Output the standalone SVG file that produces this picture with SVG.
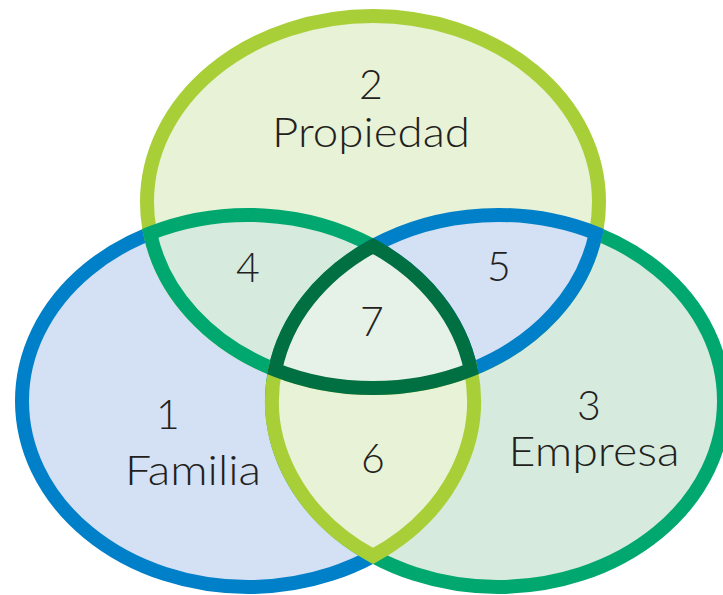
<svg xmlns="http://www.w3.org/2000/svg" width="723" height="595" viewBox="0 0 723 595">
<style>
.sw{stroke-width:14;stroke-linejoin:miter;stroke-miterlimit:10}
.lbl{font-family:"Lato","Open Sans","DejaVu Sans",sans-serif;font-weight:300;font-size:42px;fill:#231f20;text-anchor:middle}
.num{font-family:"Lato","Open Sans","DejaVu Sans",sans-serif;font-weight:300;font-size:41px;fill:#231f20;text-anchor:middle}
</style>
<rect width="723" height="595" fill="#ffffff"/>
<g id="familia">
<ellipse class="sw" cx="248" cy="401" rx="226" ry="186" fill="#d4e0f3" stroke="#0080c8"/>
</g>
<g id="empresa">
<ellipse class="sw" cx="498" cy="401" rx="226" ry="186" fill="#d6eade" stroke="#00a86f"/>
</g>
<g id="propiedad">
<ellipse class="sw" cx="373" cy="202" rx="226" ry="186" fill="#e8f2d6" stroke="#a8cf38"/>
</g>
<g id="region4">
<path class="sw" d="M150.2,233.3 A226,186 0 0 1 373,246 A226,186 0 0 0 275.2,369.7 A226,186 0 0 1 150.2,233.3 Z" fill="#d6eade" stroke="#00a86f"/>
</g>
<g id="region5">
<path class="sw" d="M595.8,233.3 A226,186 0 0 0 373,246 A226,186 0 0 1 470.8,369.7 A226,186 0 0 0 595.8,233.3 Z" fill="#d4e0f3" stroke="#0080c8"/>
</g>
<g id="region6">
<path class="sw" d="M275.2,369.7 A226,186 0 0 0 470.8,369.7 A226,186 0 0 1 373,556 A226,186 0 0 1 275.2,369.7 Z" fill="#e8f2d6" stroke="#a8cf38"/>
</g>
<g id="region7">
<path class="sw" d="M373,246 A226,186 0 0 1 470.8,369.7 A226,186 0 0 1 275.2,369.7 A226,186 0 0 1 373,246 Z" fill="#e6f1e7" stroke="#006f41"/>
</g>
<g id="labels">
<text class="num" x="371" y="99">2</text>
<text class="lbl" x="371" y="147" textLength="198" lengthAdjust="spacingAndGlyphs">Propiedad</text>
<text class="num" x="168" y="429">1</text>
<text class="lbl" x="193" y="485" textLength="136" lengthAdjust="spacingAndGlyphs">Familia</text>
<text class="num" x="589" y="420">3</text>
<text class="lbl" x="594" y="466" textLength="171" lengthAdjust="spacingAndGlyphs">Empresa</text>
<text class="num" x="248" y="282">4</text>
<text class="num" x="499" y="281">5</text>
<text class="num" x="372" y="336">7</text>
<text class="num" x="373" y="473">6</text>
</g>
<g id="connectors"/>
</svg>
